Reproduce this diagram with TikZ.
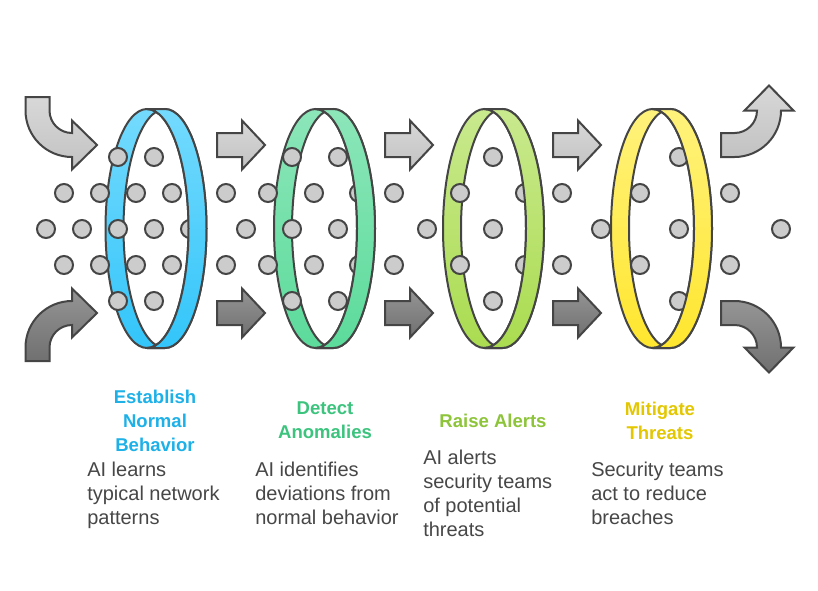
\documentclass[tikz,border=0pt]{standalone}
\usepackage{fontspec}
\setmainfont{Liberation Sans}
\definecolor{edge}{HTML}{454545}
\definecolor{dotgray}{HTML}{CCCCCC}
\definecolor{lightT}{HTML}{D8D8D8}
\definecolor{lightB}{HTML}{C2C2C2}
\definecolor{darkT}{HTML}{959595}
\definecolor{darkB}{HTML}{707070}
\definecolor{blueT}{HTML}{74DAFD}
\definecolor{blueB}{HTML}{33C5FA}
\definecolor{greenT}{HTML}{8CE6B9}
\definecolor{greenB}{HTML}{5CDB9B}
\definecolor{limeT}{HTML}{C9E98E}
\definecolor{limeB}{HTML}{AADC50}
\definecolor{yelT}{HTML}{FFF27C}
\definecolor{yelB}{HTML}{FFE62E}
\definecolor{blueTx}{HTML}{1EB1E8}
\definecolor{greenTx}{HTML}{3CC47E}
\definecolor{limeTx}{HTML}{8DC43A}
\definecolor{yelTx}{HTML}{E3C700}
\definecolor{bodytx}{HTML}{474747}
\tikzset{
  ringline/.style={draw=edge, line width=1.5pt},
  lightarrow/.style={top color=lightT, bottom color=lightB, draw=edge, line width=1.5pt},
  darkarrow/.style={top color=darkT, bottom color=darkB, draw=edge, line width=1.5pt},
  dot/.style={circle, draw=edge, fill=dotgray, line width=1.5pt, minimum size=13.5pt, inner sep=0pt},
  titletx/.style={font=\bfseries\fontsize{13.9}{18}\selectfont, align=center, inner sep=0pt, anchor=north},
  bodytxt/.style={font=\fontsize{15}{18}\selectfont, align=left, inner sep=0pt, anchor=north west, text=bodytx},
}
\newcommand\myhull[1]{(#1-9,-109) -- (#1+9,-109) arc[start angle=90,end angle=-90,x radius=41.5,y radius=119.5] -- (#1-9,-348) arc[start angle=270,end angle=90,x radius=41.5,y radius=119.5] -- cycle}
\newcommand\myringback[3]{%
  \shade[top color=#2,bottom color=#3] \myhull{#1};
  \begin{scope}
    \clip (#1-9,-228.5) ellipse[x radius=41.5,y radius=119.5];
    \fill[white] (#1+9,-228.5) ellipse[x radius=41.5,y radius=119.5];
  \end{scope}
  \draw[ringline] (#1-9,-228.5) ellipse[x radius=41.5,y radius=119.5]
    (#1+9,-228.5) ellipse[x radius=41.5,y radius=119.5]
    (#1-9,-109) -- (#1+9,-109) (#1-9,-348) -- (#1+9,-348);
}
\newcommand\myringfront[3]{%
  \begin{scope}
    \clip (#1,-100) rectangle (#1+60,-360);
    \begin{scope}[even odd rule]
      \clip \myhull{#1} (#1-9,-228.5) ellipse[x radius=41.5,y radius=119.5];
      \shade[top color=#2,bottom color=#3] \myhull{#1};
    \end{scope}
  \end{scope}
  \draw[ringline] (#1-9,-109) -- (#1+9,-109) arc[start angle=90,end angle=-90,x radius=41.5,y radius=119.5] -- (#1-9,-348);
  \draw[ringline] (#1-9,-109) arc[start angle=90,end angle=-90,x radius=41.5,y radius=119.5];
}
\begin{document}
\begin{tikzpicture}[x=0.75pt,y=0.75pt]
\useasboundingbox (0,0) rectangle (818,-590);
\fill[white] (0,0) rectangle (818,-590);

% curved arrows left
\draw[lightarrow] (25.5,-97) -- (25.5,-110.5) arc[start angle=180,end angle=270,radius=46.5]
  -- (72,-169.5) -- (97,-145) -- (72,-120.5) -- (72,-133)
  arc[start angle=270,end angle=180,radius=22.5] -- (49.5,-97) -- cycle;
\draw[darkarrow] (25.5,-361) -- (25.5,-347.5) arc[start angle=180,end angle=90,radius=46.5]
  -- (72,-288.5) -- (97,-313) -- (72,-337.5) -- (72,-325)
  arc[start angle=90,end angle=180,radius=22.5] -- (49.5,-361) -- cycle;

% curved arrows right
\draw[lightarrow] (721,-157) -- (734.5,-157) arc[start angle=270,end angle=360,radius=46.5]
  -- (793.5,-110.5) -- (769,-85.5) -- (744.5,-110.5) -- (757,-110.5)
  arc[start angle=0,end angle=-90,radius=22.5] -- (721,-133) -- cycle;
\draw[darkarrow] (721,-301) -- (734.5,-301) arc[start angle=90,end angle=0,radius=46.5]
  -- (793.5,-347.5) -- (769,-372.5) -- (744.5,-347.5) -- (757,-347.5)
  arc[start angle=0,end angle=90,radius=22.5] -- (721,-325) -- cycle;

% straight arrows
\foreach \xa in {217,385,553}{
  \draw[lightarrow] (\xa,-133) -- (\xa+25,-133) -- (\xa+25,-120.5) -- (\xa+48,-145)
    -- (\xa+25,-169.5) -- (\xa+25,-157) -- (\xa,-157) -- cycle;
  \draw[darkarrow] (\xa,-301) -- (\xa+25,-301) -- (\xa+25,-288.5) -- (\xa+48,-313)
    -- (\xa+25,-337.5) -- (\xa+25,-325) -- (\xa,-325) -- cycle;
}

% rings (back)
\myringback{156}{blueT}{blueB}
\myringback{324.5}{greenT}{greenB}
\myringback{493.5}{limeT}{limeB}
\myringback{661.5}{yelT}{yelB}

% dots
\foreach \xd/\yd [count=\i] in {
  118/157,154/157,292/157,338/157,493/157,679/157,
  64/193,100/193,136/193,172/193,226/193,268/193,314/193,359/193,394/193,460/193,525/193,562/193,640/193,730/193,
  46/229,82/229,118/229,154/229,190/229,246/229,292/229,338/229,427/229,493/229,601/229,679/229,781/229,
  64/265,100/265,136/265,172/265,226/265,268/265,314/265,359/265,394/265,460/265,525/265,562/265,640/265,730/265,
  118/301,154/301,292/301,338/301,493/301,679/301}
  \node[dot] (dot\i) at (\xd,-\yd) {};

% rings (front crescents)
\myringfront{156}{blueT}{blueB}
\myringfront{324.5}{greenT}{greenB}
\myringfront{493.5}{limeT}{limeB}
\myringfront{661.5}{yelT}{yelB}

% texts
\node[titletx, text=blueTx] (t1) at (155,-389.5) {Establish\\Normal\\Behavior};
\node[titletx, text=greenTx] (t2) at (325,-401.5) {Detect\\Anomalies};
\node[titletx, text=limeTx] (t3) at (493,-413.5) {Raise Alerts};
\node[titletx, text=yelTx] (t4) at (660,-402) {Mitigate\\Threats};

\node[bodytxt] (b1) at (87,-461.5) {AI learns\\typical network\\patterns};
\node[bodytxt] (b2) at (255,-461.5) {AI identifies\\deviations from\\normal behavior};
\node[bodytxt] (b3) at (423,-450) {AI alerts\\security teams\\of potential\\threats};
\node[bodytxt] (b4) at (591,-461.5) {Security teams\\act to reduce\\breaches};
\end{tikzpicture}
\end{document}
